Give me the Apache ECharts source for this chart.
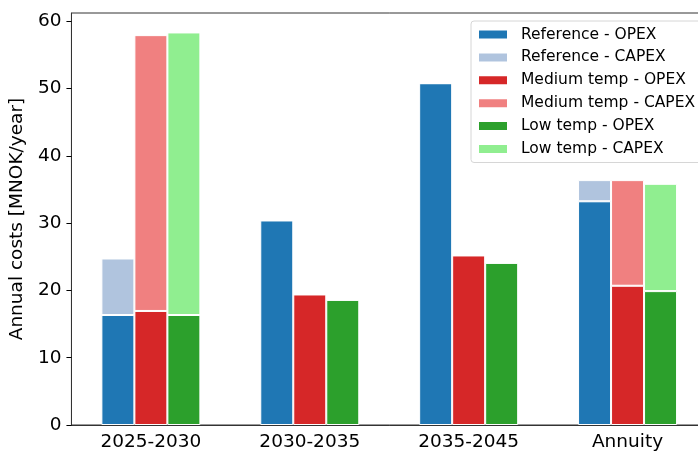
<!DOCTYPE html>
<html>
<head>
<meta charset="utf-8">
<script src="https://cdn.jsdelivr.net/npm/echarts@6/dist/echarts.min.js"></script>
<style>
html,body{margin:0;padding:0;background:#fff;overflow:hidden;}
/* the original figure is cropped on the right, so the chart is a bit wider than the window */
#main{width:712px;height:452px;}
</style>
</head>
<body>
<div id="main"></div>
<script>
var periods=['2025-2030','2030-2035','2035-2045','Annuity'];
// OPEX / CAPEX per scenario, MNOK/year
var refOpex=[16.35,30.4,50.8,33.25];
var refCapex=[8.4,0,0,3.15];
var medOpex=[16.95,19.4,25.2,20.7];
var medCapex=[41.0,0,0,15.7];
var lowOpex=[16.35,18.6,24.1,19.9];
var lowCapex=[42.0,0,0,15.95];

var font='DejaVu Sans';

function bar(name,stack,color,data){
	return {
		name:name,
		type:'bar',
		stack:stack,
		data:data,
		barWidth:33,
		barGap:'0%',
		itemStyle:{color:color,borderColor:'#fff',borderWidth:1},
		emphasis:{disabled:true}
	};
}

var myChart=echarts.init(document.getElementById('main'));
var option={
	animation:false,
	grid:{
		left:67,right:5,top:13,bottom:27,
		show:true,borderColor:'#333',borderWidth:1
	},
	legend:{
		orient:'vertical',
		left:471,top:21,
		padding:[5,12,5,6],
		itemWidth:30,itemHeight:10,itemGap:5.9,
		icon:'rect',
		backgroundColor:'rgba(255,255,255,0.8)',
		borderColor:'#d6d6d6',borderWidth:1,borderRadius:3,
		textStyle:{fontFamily:font,fontSize:15.5,color:'#000',lineHeight:17,padding:[0,0,0,8]},
		data:['Reference - OPEX','Reference - CAPEX','Medium temp - OPEX','Medium temp - CAPEX','Low temp - OPEX','Low temp - CAPEX']
	},
	xAxis:{
		type:'category',
		data:periods,
		axisLine:{lineStyle:{color:'#333'}},
		axisTick:{alignWithLabel:true,length:5,lineStyle:{color:'#000'}},
		axisLabel:{fontFamily:font,fontSize:18.5,color:'#000',margin:8}
	},
	yAxis:{
		type:'value',
		min:0,max:61.24,interval:10,
		name:'Annual costs [MNOK/year]',
		nameLocation:'middle',
		nameGap:40,
		nameTextStyle:{fontFamily:font,fontSize:18.5,color:'#000'},
		axisLine:{show:true,lineStyle:{color:'#333'}},
		axisTick:{show:true,length:5,lineStyle:{color:'#000'}},
		axisLabel:{fontFamily:font,fontSize:18.5,color:'#000',margin:10,showMaxLabel:false},
		splitLine:{show:false}
	},
	series:[
		bar('Reference - OPEX','ref','#1f77b4',refOpex),
		bar('Reference - CAPEX','ref','#b0c4de',refCapex),
		bar('Medium temp - OPEX','med','#d62728',medOpex),
		bar('Medium temp - CAPEX','med','#f08080',medCapex),
		bar('Low temp - OPEX','low','#2ca02c',lowOpex),
		bar('Low temp - CAPEX','low','#90ee90',lowCapex)
	]
};
myChart.setOption(option);
</script>
</body>
</html>
